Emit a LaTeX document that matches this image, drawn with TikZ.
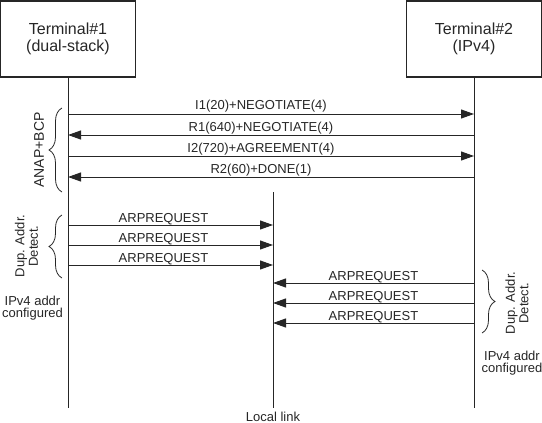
\documentclass[tikz,border=0pt]{standalone}
\usepackage{fontspec}
\setmainfont{Liberation Sans}
\usetikzlibrary{arrows.meta,positioning,decorations.pathreplacing}

\begin{document}
\begin{tikzpicture}[x=1pt, y=-1pt, black!85,
  term/.style={draw, line width=1.2pt, minimum width=135pt, minimum height=76pt,
    align=center, font=\fontsize{16}{16.5}\selectfont},
  life/.style={line width=1pt},
  msg/.style={line width=1pt, -{Triangle[length=13pt,width=9pt]}},
  lbl/.style={font=\fontsize{13}{14}\selectfont, inner sep=0pt, anchor=base},
  note/.style={font=\fontsize{13}{11.5}\selectfont, align=center, inner sep=0pt},
  side/.style={font=\fontsize{13}{13.5}\selectfont, align=center, inner sep=0pt, rotate=90},
  brc/.style={decorate, decoration={brace, amplitude=13pt}, line width=0.8pt}]
  \useasboundingbox (0,0) rectangle (542,423);

    \node (T1) [term] at (68,39) {Terminal\#1\\(dual-stack)};
    \node (T2) [term] at (474,39) {Terminal\#2\\(IPv4)};
    \coordinate (T1e) at (68,408);
    \coordinate (T2e) at (474,408);
    \draw[life] (T1) -- (T1e);
    \draw[life] (T2) -- (T2e);

    \node (LL) [note, anchor=north, inner sep=4pt] at (273,408) {Local link};
    \coordinate (LLs) at (273,192);
    \draw[life] (LLs) -- (LL);

    \foreach \y/\s/\e/\txt [count=\i] in {114/a/b/I1(20)+NEGOTIATE(4),
        135/b/a/R1(640)+NEGOTIATE(4), 156/a/b/I2(720)+AGREEMENT(4),
        177/b/a/R2(60)+DONE(1)}
    {
      \coordinate (a\i) at (68,\y);
      \coordinate (b\i) at (474,\y);
      \draw[msg] (\s\i) -- node[lbl, xshift=-10pt, yshift=4pt] {\txt} (\e\i);
    }
    \foreach \y [count=\i] in {225,245,265}
    {
      \coordinate (p\i) at (68,\y);
      \coordinate (q\i) at (273,\y);
      \draw[msg] (p\i) -- node[lbl, xshift=-7pt, yshift=3pt] {ARPREQUEST} (q\i);
    }
    \foreach \y [count=\i] in {283,303,323}
    {
      \coordinate (r\i) at (474,\y);
      \coordinate (s\i) at (273,\y);
      \draw[msg] (r\i) -- node[lbl, yshift=3pt] {ARPREQUEST} (s\i);
    }

    \coordinate (NB) at (62,192);
    \coordinate (NT) at (62,108);
    \draw[brc] (NB) -- (NT);
    \node (anap) [side, font=\fontsize{14}{14}\selectfont] at (39,150) {ANAP+BCP};

    \coordinate (DB) at (62,278);
    \coordinate (DT) at (62,215);
    \draw[brc] (DB) -- (DT);
    \node (dad1) [side] at (26.5,246) {Dup. Addr.\\Detect.};
    \node (cfg1) [note] at (32.5,308) {IPv4 addr\\configured};

    \coordinate (ET) at (482,270);
    \coordinate (EB) at (482,333);
    \draw[brc] (ET) -- (EB);
    \node (dad2) [side] at (517,303) {Dup. Addr.\\Detect.};
    \node (cfg2) [note] at (512,363) {IPv4 addr\\configured};
  \end{tikzpicture}
\end{document}
